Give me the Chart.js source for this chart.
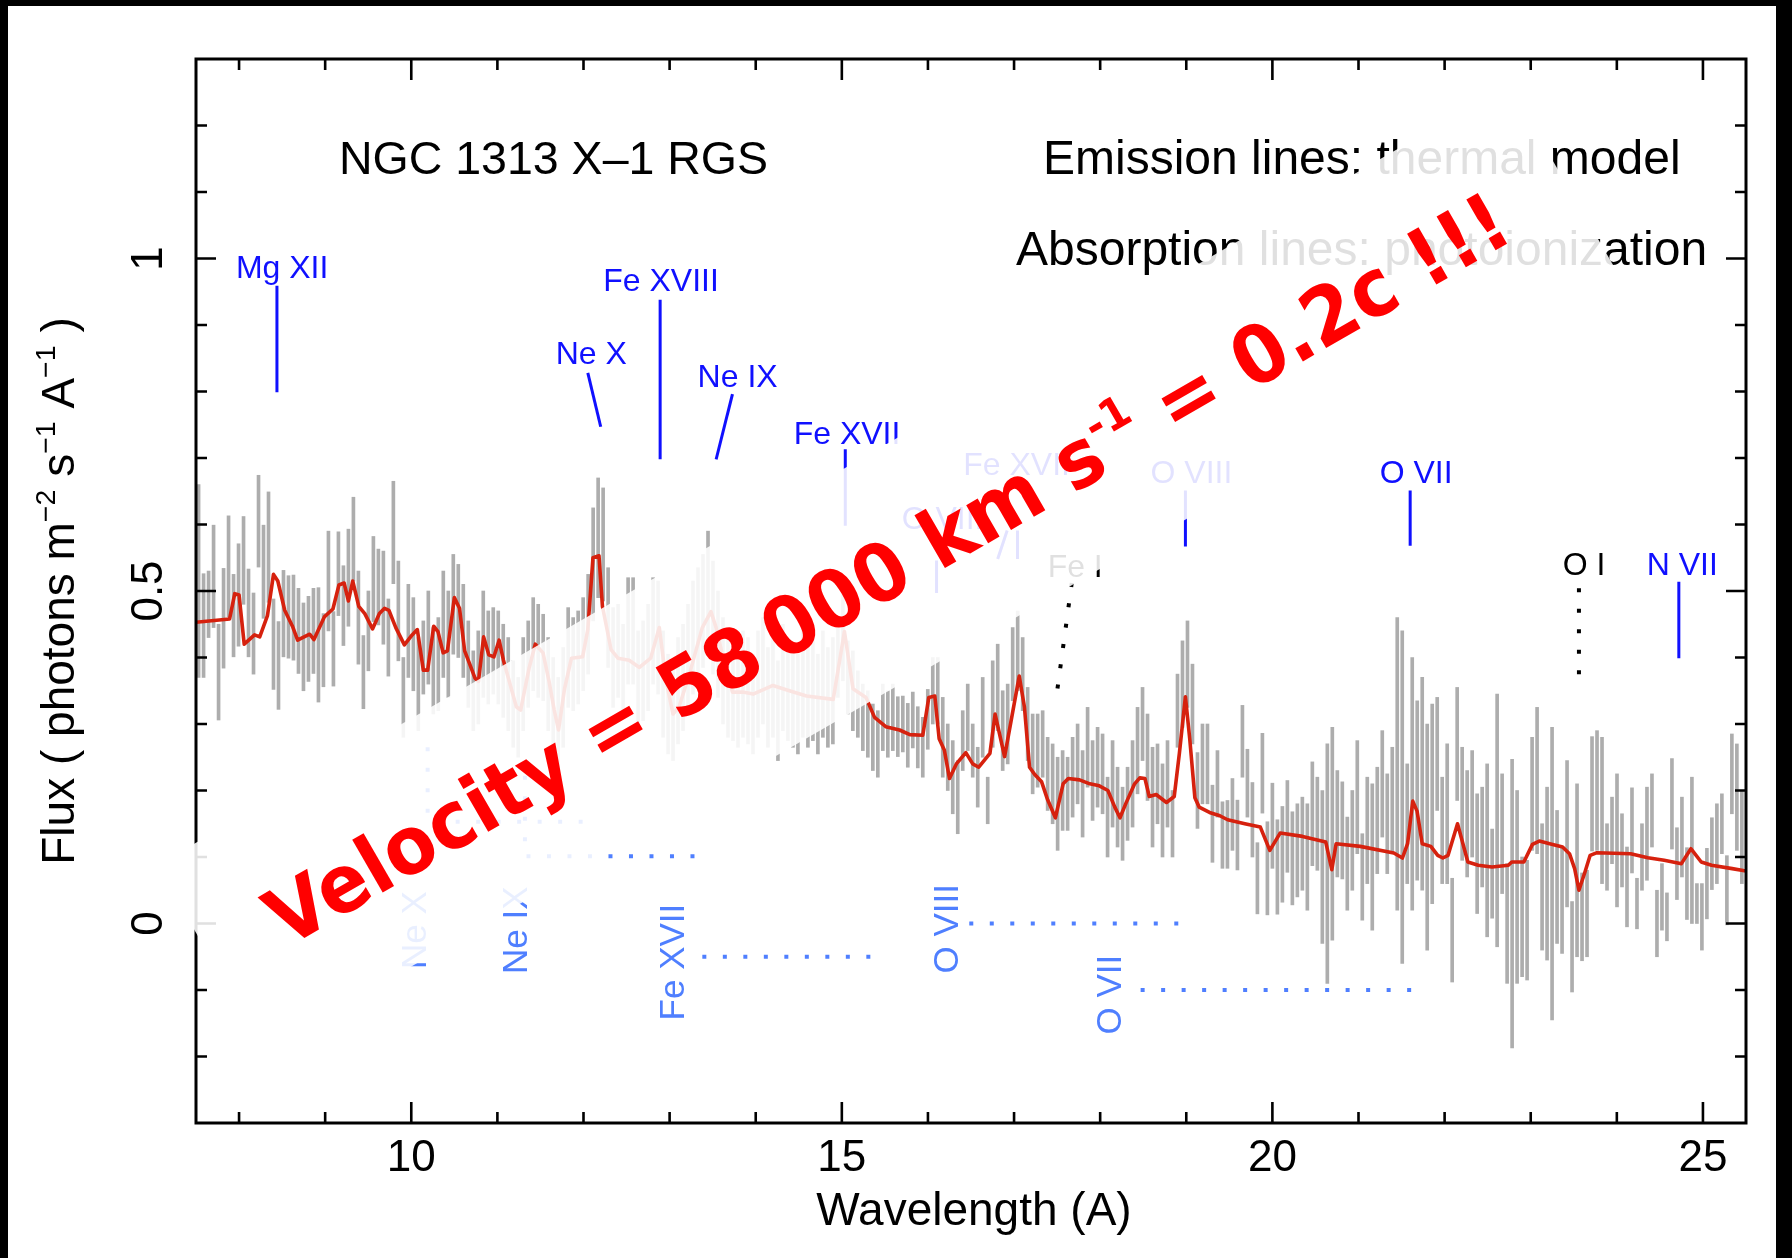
<!DOCTYPE html>
<html>
<head>
<meta charset="utf-8">
<script src="https://cdn.jsdelivr.net/npm/chart.js@4.4.1/dist/chart.umd.min.js"></script>
<style>
html,body{margin:0;padding:0;background:#000;overflow:hidden}
canvas{display:block}
</style>
</head>
<body>
<canvas id="c" width="1792" height="1258"></canvas>
<script>
// ---------- data ----------
const binStart = 7.53;      // first bin centre (Angstrom)
const binStep = 0.058;      // bin width (Angstrom)

const fluxMid = [
0.515,0.448,0.48,0.522,0.378,0.459,0.537,0.463,0.494,0.546,
0.467,0.436,0.605,0.529,0.566,0.42,0.388,0.466,0.461,0.46,
0.44,0.416,0.428,0.44,0.419,0.411,0.515,0.413,0.526,0.478,
0.52,0.578,0.46,0.378,0.44,0.518,0.506,0.49,0.43,0.588,
0.47,0.34,0.44,0.42,0.36,0.4,0.43,0.38,0.39,0.45,
0.42,0.48,0.47,0.44,0.39,0.35,0.37,0.42,0.4,0.41,
0.4,0.38,0.36,0.33,0.31,0.36,0.39,0.42,0.41,0.4,
0.36,0.33,0.3,0.34,0.4,0.39,0.4,0.42,0.45,0.54,
0.58,0.57,0.46,0.4,0.41,0.38,0.44,0.44,0.37,0.38,
0.4,0.44,0.43,0.36,0.33,0.32,0.35,0.37,0.4,0.43,
0.45,0.47,0.5,0.46,0.42,0.38,0.36,0.35,0.34,0.36,
0.35,0.33,0.36,0.38,0.34,0.36,0.32,0.37,0.35,0.34,
0.33,0.36,0.34,0.35,0.33,0.36,0.34,0.35,0.4,0.43,
0.37,0.35,0.33,0.31,0.3,0.28,0.27,0.31,0.3,0.31,
0.296,0.3,0.283,0.306,0.28,0.265,0.307,0.35,0.35,0.28,
0.25,0.22,0.19,0.275,0.31,0.26,0.22,0.31,0.185,0.33,
0.355,0.29,0.3,0.39,0.41,0.375,0.3,0.255,0.26,0.27,
0.225,0.21,0.18,0.2,0.195,0.22,0.24,0.195,0.265,0.215,
0.235,0.225,0.16,0.21,0.175,0.15,0.18,0.21,0.26,0.3,
0.25,0.19,0.21,0.17,0.21,0.15,0.32,0.36,0.39,0.33,
0.2,0.24,0.24,0.15,0.21,0.133,0.134,0.164,0.133,0.274,
0.211,0.156,0.068,0.226,0.083,0.147,0.085,0.104,0.146,0.098,
0.11,0.12,0.1,0.165,0.15,0.085,0.09,0.135,0.15,0.14,
0.09,0.125,0.19,0.07,0.14,0.1,0.155,0.21,0.15,0.185,
0.24,0.19,0.15,0.21,0.2,0.21,0.13,0.18,0.255,0.14,
0.165,-0.01,0.27,0.18,0.15,0.18,0.105,0.13,0.11,0.075,
0.155,0.135,0,0.03,0.055,0.01,0.005,0.195,0.215,0.055,
0.075,0.075,0.07,0.035,0.135,-0.035,0.08,0.01,0.015,0.195,
0.2,0.17,0.1,0.14,0.125,0.11,0.055,0.14,0.03,0.1,
0.135,0.17,0,0.04,0.01,0.18,0.09,0.13,0.06,0.11,
0.03,0.01,0.06,0.105,0.12,0.15,0.05,0.225,0.19,0.13
];

const fluxErr = [
0.145,0.078,0.05,0.077,0.072,0.075,0.076,0.062,0.077,0.066,
0.066,0.061,0.069,0.07,0.083,0.068,0.066,0.065,0.062,0.064,
0.064,0.066,0.064,0.064,0.086,0.055,0.075,0.056,0.063,0.06,
0.073,0.063,0.07,0.055,0.06,0.064,0.057,0.07,0.058,0.077,
0.075,0.06,0.07,0.07,0.07,0.055,0.07,0.065,0.07,0.08,
0.08,0.075,0.07,0.07,0.065,0.06,0.07,0.08,0.07,0.065,
0.07,0.07,0.07,0.065,0.06,0.07,0.065,0.07,0.07,0.065,
0.07,0.07,0.07,0.075,0.075,0.07,0.07,0.07,0.075,0.085,
0.09,0.085,0.075,0.075,0.07,0.07,0.08,0.08,0.07,0.075,
0.08,0.08,0.085,0.08,0.075,0.075,0.08,0.08,0.08,0.085,
0.085,0.085,0.09,0.085,0.08,0.08,0.08,0.075,0.075,0.08,
0.08,0.075,0.08,0.08,0.075,0.08,0.075,0.08,0.075,0.075,
0.075,0.08,0.075,0.075,0.075,0.08,0.075,0.08,0.06,0.065,
0.055,0.06,0.05,0.05,0.05,0.05,0.05,0.05,0.05,0.05,
0.045,0.042,0.048,0.042,0.046,0.045,0.045,0.05,0.05,0.06,
0.05,0.055,0.055,0.045,0.05,0.04,0.045,0.06,0.035,0.065,
0.065,0.06,0.06,0.055,0.06,0.055,0.055,0.06,0.055,0.05,
0.055,0.06,0.07,0.06,0.055,0.06,0.06,0.065,0.06,0.06,
0.06,0.06,0.06,0.065,0.06,0.055,0.055,0.065,0.065,0.055,
0.065,0.075,0.06,0.07,0.065,0.05,0.055,0.065,0.065,0.06,
0.057,0.06,0.06,0.058,0.05,0.05,0.051,0.054,0.0525,0.054,
0.051,0.056,0.0535,0.06,0.07,0.064,0.071,0.072,0.069,0.07,
0.07,0.07,0.08,0.078,0.07,0.115,0.18,0.16,0.08,0.073,
0.07,0.075,0.085,0.065,0.08,0.11,0.08,0.08,0.075,0.08,
0.22,0.25,0.09,0.19,0.135,0.16,0.17,0.15,0.085,0.08,
0.105,0.078,0.085,0.085,0.08,0.08,0.09,0.075,0.13,0.067,
0.19,0.09,0.09,0.217,0.145,0.09,0.09,0.085,0.11,0.095,
0.13,0.22,0.1,0.08,0.11,0.068,0.13,0.066,0.065,0.086,
0.09,0.11,0.05,0.05,0.1,0.055,0.06,0.064,0.038,0.05,
0.07,0.055,0.05,0.05,0.036,0.068,0.054,0.06,0.054,0.11,
0.03,0.05,0.053,0.054,0.06,0.045,0.052,0.06,0.08,0.07
];

const modelWave = [
7.50,7.89,7.95,8.00,8.06,8.18,8.24,8.33,8.40,8.45,
8.53,8.62,8.68,8.82,8.87,8.99,9.09,9.16,9.22,9.27,
9.32,9.39,9.46,9.55,9.63,9.69,9.74,9.82,9.92,10.01,
10.07,10.14,10.19,10.26,10.31,10.37,10.42,10.50,10.56,10.62,
10.67,10.74,10.78,10.84,10.90,10.96,11.02,11.07,11.22,11.27,
11.37,11.44,11.53,11.60,11.66,11.71,11.78,11.86,11.99,12.05,
12.11,12.18,12.22,12.32,12.40,12.53,12.65,12.78,12.88,12.96,
13.04,13.11,13.23,13.38,13.48,13.54,13.62,13.73,13.85,13.97,
14.20,14.39,14.59,14.90,15.03,15.13,15.28,15.38,15.51,15.67,
15.79,15.94,16.01,16.08,16.13,16.19,16.25,16.33,16.44,16.52,
16.59,16.72,16.78,16.89,17.06,17.12,17.18,17.24,17.32,17.39,
17.48,17.57,17.63,17.76,17.88,17.99,18.09,18.17,18.23,18.30,
18.40,18.46,18.52,18.57,18.65,18.77,18.86,18.92,18.99,19.04,
19.10,19.15,19.27,19.39,19.48,19.68,19.86,19.97,20.09,20.35,
20.62,20.69,20.74,21.02,21.41,21.51,21.57,21.63,21.68,21.74,
21.84,21.92,21.98,22.04,22.15,22.27,22.39,22.55,22.74,22.78,
22.92,23.02,23.10,23.22,23.37,23.45,23.51,23.56,23.63,23.69,
23.77,24.16,24.36,24.55,24.75,24.86,24.98,25.10,25.34,25.50
];
const modelFlux = [
0.453,0.458,0.496,0.494,0.420,0.434,0.431,0.463,0.525,0.515,
0.471,0.447,0.426,0.435,0.427,0.461,0.473,0.509,0.512,0.485,
0.515,0.477,0.466,0.443,0.466,0.474,0.471,0.445,0.419,0.434,
0.442,0.381,0.381,0.447,0.439,0.407,0.410,0.490,0.474,0.410,
0.393,0.369,0.364,0.431,0.404,0.401,0.426,0.396,0.326,0.321,
0.385,0.420,0.407,0.364,0.321,0.291,0.353,0.399,0.401,0.442,
0.550,0.553,0.477,0.412,0.399,0.396,0.385,0.399,0.445,0.364,
0.315,0.326,0.375,0.445,0.469,0.445,0.400,0.348,0.348,0.345,
0.358,0.350,0.342,0.337,0.439,0.353,0.340,0.310,0.296,0.291,
0.284,0.283,0.340,0.342,0.278,0.261,0.218,0.240,0.257,0.240,
0.235,0.256,0.315,0.251,0.372,0.326,0.235,0.224,0.213,0.186,
0.159,0.210,0.218,0.216,0.210,0.207,0.200,0.175,0.159,0.181,
0.210,0.219,0.218,0.191,0.194,0.182,0.191,0.256,0.341,0.278,
0.189,0.175,0.167,0.162,0.156,0.150,0.145,0.110,0.136,0.131,
0.1225,0.081,0.120,0.116,0.106,0.0985,0.120,0.184,0.169,0.120,
0.116,0.1025,0.0985,0.1025,0.150,0.0925,0.0875,0.085,0.0875,0.0925,
0.0925,0.119,0.124,0.120,0.115,0.105,0.0825,0.050,0.0775,0.1025,
0.1065,0.105,0.099,0.095,0.090,0.1125,0.0925,0.0875,0.0825,0.079
];

// axis tick labels
const xTickValues = [10, 15, 20, 25];
const xTickLabels = ['10', '15', '20', '25'];
const yTickValues = [0, 0.5, 1];
const yTickLabels = ['0', '0.5', '1'];

// emission-line identifications (label position + marker segment, in data units)
const emisLabel     = ['Mg XII','Ne X','Fe XVIII','Ne IX','Fe XVII','O VIII','Fe XVII','', 'O VIII','O VII','N VII'];
const emisLabelWave = [8.50, 12.09, 12.90, 13.79, 15.06, 16.17, 17.03, 17.03, 19.06, 21.67, 24.76];
const emisLabelFlux = [0.984, 0.854, 0.964, 0.820, 0.735, 0.607, 0.687, 0.687, 0.676, 0.676, 0.538];
const emisWaveA = [8.44, 12.05, 12.89, 13.73, 15.04, 16.10, 16.92, 17.04, 18.99, 21.60, 24.72];
const emisFluxA = [0.959, 0.828, 0.938, 0.796, 0.713, 0.546, 0.591, 0.591, 0.651, 0.651, 0.514];
const emisWaveB = [8.44, 12.20, 12.89, 13.54, 15.04, 16.10, 16.81, 17.04, 18.99, 21.60, 24.72];
const emisFluxB = [0.799, 0.747, 0.698, 0.698, 0.598, 0.497, 0.548, 0.548, 0.567, 0.568, 0.399];

// edges (black dotted)
const edgeLabel     = ['Fe I', 'O I'];
const edgeLabelWave = [17.71, 23.62];
const edgeLabelFlux = [0.534, 0.538];
const edgeWaveA = [17.67, 23.56];
const edgeFluxA = [0.512, 0.504];
const edgeWaveB = [17.50, 23.56];
const edgeFluxB = [0.349, 0.351];

// absorption lines (photoionization, blueshifted)
const absLabel     = ['Ne X', 'Ne IX', 'Fe XVII', 'O VIII', 'O VII'];
const absLabelWave = [10.06, 11.23, 13.05, 16.24, 18.13];
const absLabelFlux = [-0.010, -0.010, -0.058, -0.008, -0.107];
const absLevel     = [0.153, 0.101, -0.050, 0.000, -0.100];
const absWaveFrom  = [10.19, 11.32, 13.38, 16.48, 18.47];
const absWaveTo    = [12.12, 13.48, 15.35, 18.92, 21.63];
const absDropTop   = [0.265, 0.222, null, null, null];

// ---------- styles ----------
const FONT = '"Liberation Sans", Arial, Helvetica, sans-serif';
const BLUE = '#1010ff';
const LBLUE = '#4f7fff';
const RED_MODEL = '#d6210e';
const GREY = '#adadad';

// ---------- datasets ----------
const barData = fluxMid.map((m, i) => ({
  x: +(binStart + i * binStep).toFixed(4),
  y: [m - fluxErr[i], m + fluxErr[i]]
}));
const modelData = modelWave.map((w, i) => ({ x: w, y: modelFlux[i] }));

const datasets = [
  { type: 'bar', data: barData, backgroundColor: GREY, borderWidth: 0, barThickness: 3, order: 10 },
  { type: 'line', data: modelData, borderColor: RED_MODEL, borderWidth: 3.6, pointRadius: 0, tension: 0,
    borderJoinStyle: 'round', borderCapStyle: 'round', order: 5 }
];
emisWaveA.forEach((w, i) => {
  datasets.push({ type: 'line', data: [{ x: w, y: emisFluxA[i] }, { x: emisWaveB[i], y: emisFluxB[i] }],
    borderColor: BLUE, borderWidth: 3, pointRadius: 0, order: 1 });
});
edgeWaveA.forEach((w, i) => {
  datasets.push({ type: 'line', data: [{ x: w, y: edgeFluxA[i] }, { x: edgeWaveB[i], y: edgeFluxB[i] }],
    borderColor: '#000', borderWidth: 4, borderDash: [4, 16.5], pointRadius: 0, order: 1 });
});
absLevel.forEach((lv, i) => {
  const pts = [];
  if (absDropTop[i] !== null) pts.push({ x: absWaveFrom[i], y: absDropTop[i] });
  pts.push({ x: absWaveFrom[i], y: lv });
  pts.push({ x: absWaveTo[i], y: lv });
  datasets.push({ type: 'line', data: pts, borderColor: LBLUE, borderWidth: 4, borderDash: [4, 16.5],
    pointRadius: 0, order: 1 });
});

// ---------- plugins ----------
const bgPlugin = {
  id: 'bg',
  beforeDraw(chart) {
    const ctx = chart.ctx;
    ctx.save();
    ctx.fillStyle = '#000';
    ctx.fillRect(0, 0, chart.width, chart.height);
    ctx.fillStyle = '#fff';
    ctx.fillRect(8, 6, 1768, chart.height - 6);
    ctx.restore();
  }
};

function drawText(ctx, s, x, y, font, color, align, base, rot) {
  ctx.save();
  ctx.translate(x, y);
  if (rot) ctx.rotate(rot);
  ctx.font = font;
  ctx.fillStyle = color;
  ctx.textAlign = align || 'center';
  ctx.textBaseline = base || 'middle';
  ctx.fillText(s, 0, 0);
  ctx.restore();
}

// draws a sequence of [text, sizeFactor, raise] pieces on one baseline, centred on (0,0) in the current frame
function drawPieces(ctx, pieces, size, family, weight, color, baselineY) {
  let w = 0;
  pieces.forEach(p => { ctx.font = `${weight} ${size * p[1]}px ${family}`; w += ctx.measureText(p[0]).width; });
  let xx = -w / 2;
  ctx.fillStyle = color;
  ctx.textAlign = 'left';
  ctx.textBaseline = 'alphabetic';
  pieces.forEach(p => {
    ctx.font = `${weight} ${size * p[1]}px ${family}`;
    ctx.fillText(p[0], xx, baselineY - p[2] * size);
    xx += ctx.measureText(p[0]).width;
  });
  return w;
}

const framePlugin = {
  id: 'frame',
  afterDraw(chart) {
    const ctx = chart.ctx;
    const ca = chart.chartArea;
    const xs = chart.scales.x, ys = chart.scales.y;
    ctx.save();
    // frame
    ctx.strokeStyle = '#000';
    ctx.lineWidth = 3;
    ctx.strokeRect(ca.left, ca.top, ca.right - ca.left, ca.bottom - ca.top);
    // inward ticks
    ctx.lineWidth = 2.6;
    ctx.beginPath();
    for (let v = Math.ceil(xs.min); v <= Math.floor(xs.max); v++) {
      const major = v % 5 === 0;
      const len = major ? 21 : 11;
      const px = xs.getPixelForValue(v);
      ctx.moveTo(px, ca.bottom); ctx.lineTo(px, ca.bottom - len);
      ctx.moveTo(px, ca.top); ctx.lineTo(px, ca.top + len);
    }
    for (let k = Math.ceil(ys.min * 10 + 1e-6); k <= Math.floor(ys.max * 10 - 1e-6); k++) {
      const major = k % 5 === 0;
      const len = major ? 20 : 11;
      const py = ys.getPixelForValue(k / 10);
      ctx.moveTo(ca.left, py); ctx.lineTo(ca.left + len, py);
      ctx.moveTo(ca.right, py); ctx.lineTo(ca.right - len, py);
    }
    ctx.stroke();

    // tick labels
    xTickValues.forEach((v, i) => {
      drawText(ctx, xTickLabels[i], xs.getPixelForValue(v), ca.bottom + 36, `44px ${FONT}`, '#000', 'center', 'middle');
    });
    yTickValues.forEach((v, i) => {
      drawText(ctx, yTickLabels[i], ca.left - 46, ys.getPixelForValue(v), `44px ${FONT}`, '#000', 'center', 'middle', -Math.PI / 2);
    });
    // axis titles
    drawText(ctx, 'Wavelength (A)', (ca.left + ca.right) / 2 + 3, ca.bottom + 89, `46px ${FONT}`, '#000', 'center', 'middle');
    ctx.save();
    ctx.translate(ca.left - 139, (ca.top + ca.bottom) / 2);
    ctx.rotate(-Math.PI / 2);
    drawPieces(ctx, [['Flux ( photons m', 1, 0], ['\u22122', 0.62, 0.4], [' s', 1, 0], ['\u22121', 0.62, 0.4],
                     [' A', 1, 0], ['\u22121', 0.62, 0.4], [' )', 1, 0]], 46, FONT, 'normal', '#000', 16.5);
    ctx.restore();

    // header texts
    ctx.fillStyle = '#000';
    ctx.textAlign = 'left';
    ctx.textBaseline = 'alphabetic';
    ctx.font = `46.5px ${FONT}`;
    ctx.fillText('NGC 1313 X\u20131 RGS', 339, 174);
    ctx.font = `48px ${FONT}`;
    ctx.fillText('Emission lines: thermal model', 1043, 174);
    ctx.fillText('Absorption lines: photoionization', 1016, 265);

    // line identifications
    emisLabel.forEach((s, i) => {
      if (!s) return;
      drawText(ctx, s, xs.getPixelForValue(emisLabelWave[i]), ys.getPixelForValue(emisLabelFlux[i]), `32px ${FONT}`, BLUE, 'center', 'middle');
    });
    edgeLabel.forEach((s, i) => {
      drawText(ctx, s, xs.getPixelForValue(edgeLabelWave[i]), ys.getPixelForValue(edgeLabelFlux[i]), `32px ${FONT}`, '#000', 'center', 'middle');
    });
    absLabel.forEach((s, i) => {
      drawText(ctx, s, xs.getPixelForValue(absLabelWave[i]), ys.getPixelForValue(absLabelFlux[i]), `35px ${FONT}`, LBLUE, 'center', 'middle', -Math.PI / 2);
    });

    // translucent banner + red annotation
    const cx = 886.7, cy = 568, bw = 1561, bh = 215;
    ctx.save();
    ctx.translate(cx, cy);
    ctx.rotate(-Math.PI / 6);
    ctx.fillStyle = 'rgba(255,255,255,0.88)';
    ctx.fillRect(-bw / 2, -bh / 2, bw, bh);
    const fam = '"DejaVu Sans", "Liberation Sans", sans-serif';
    const pieces = [['Velocity = 58\u2009000 km s', 1, 0], ['-1', 0.55, 0.42], [' = 0.2c !!!', 1, 0]];
    // size so that the annotation spans the banner like in the reference
    let w74 = 0;
    pieces.forEach(p => { ctx.font = `bold ${74 * p[1]}px ${fam}`; w74 += ctx.measureText(p[0]).width; });
    const fs = 74 * 1420 / w74;
    ctx.translate(0, 0.39 * fs);
    ctx.scale(1, 1.07);
    drawPieces(ctx, pieces, fs, fam, 'bold', '#ff0000', 0);
    ctx.restore();

    ctx.restore();
  }
};

new Chart(document.getElementById('c').getContext('2d'), {
  type: 'bar',
  data: { datasets },
  options: {
    responsive: false,
    animation: false,
    events: [],
    devicePixelRatio: 1,
    layout: { padding: { left: 196, right: 46, top: 59, bottom: 135 } },
    plugins: { legend: { display: false }, tooltip: { enabled: false }, title: { display: false } },
    scales: {
      x: { type: 'linear', min: 7.5, max: 25.5, offset: false, display: false, grid: { offset: false } },
      y: { type: 'linear', min: -0.3, max: 1.3, display: false }
    }
  },
  plugins: [bgPlugin, framePlugin]
});
</script>
</body>
</html>
